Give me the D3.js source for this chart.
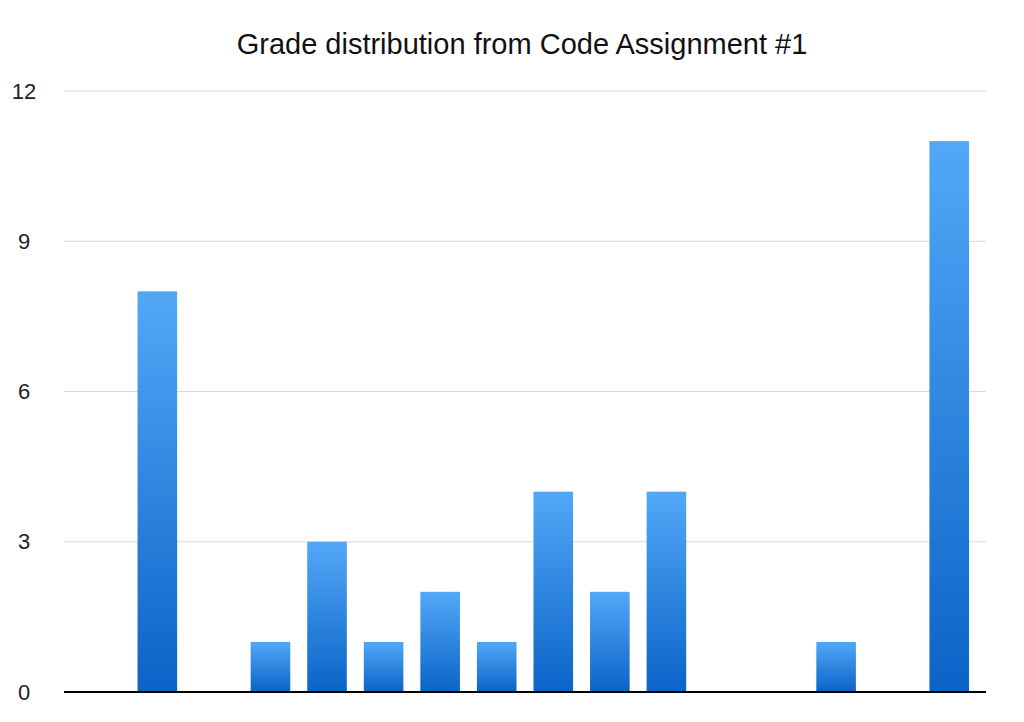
<!DOCTYPE html>
<html>
<head>
<meta charset="utf-8">
<script src="https://cdn.jsdelivr.net/npm/d3@7"></script>
<style>
  body { margin: 0; background: #fff; }
  text { font-family: "Liberation Sans", Arial, sans-serif; }
</style>
</head>
<body>
<svg id="chart" width="1024" height="722"></svg>
<script>
// bins of the grade distribution (no x labels in the original)
const categories = d3.range(16).map(i => "bin" + i);
const counts = [0, 8, 0, 1, 3, 1, 2, 1, 4, 2, 4, 0, 0, 1, 0, 11];
const yTicks = [0, 3, 6, 9, 12];
const title = "Grade distribution from Code Assignment #1";

const svg = d3.select("#chart");
const margin = { top: 91, right: 38, bottom: 30, left: 64 };
const width = 1024 - margin.left - margin.right;
const height = 722 - margin.top - margin.bottom;

const defs = svg.append("defs");
const grad = defs.append("linearGradient")
  .attr("id", "barGrad").attr("x1", 0).attr("y1", 0).attr("x2", 0).attr("y2", 1);
grad.append("stop").attr("offset", "0%").attr("stop-color", "#52a8f7");
grad.append("stop").attr("offset", "100%").attr("stop-color", "#0b63c7");

const x = d3.scaleBand().domain(categories).range([0, width]).padding(0.3);
const y = d3.scaleLinear().domain([0, 12]).range([height, 0]);

const g = svg.append("g").attr("transform", `translate(${margin.left},${margin.top})`);

// gridlines
g.selectAll(".grid")
  .data(yTicks.filter(d => d > 0))
  .enter()
  .append("line")
  .attr("x1", 0).attr("x2", width)
  .attr("y1", d => y(d)).attr("y2", d => y(d))
  .attr("stroke", "#d9d9d9").attr("stroke-width", 1);

// tick labels
g.selectAll(".ylab")
  .data(yTicks)
  .enter()
  .append("text")
  .attr("x", -40)
  .attr("y", d => y(d))
  .attr("dy", "0.35em")
  .attr("text-anchor", "middle")
  .style("font-size", "22px")
  .style("fill", "#222")
  .text(d => d);

// bars
const rows = counts.map((v, i) => ({ cat: categories[i], v }));
g.selectAll(".bar")
  .data(rows.filter(d => d.v > 0))
  .enter()
  .append("rect")
  .attr("x", d => x(d.cat))
  .attr("y", d => y(d.v))
  .attr("width", x.bandwidth())
  .attr("height", d => height - y(d.v))
  .attr("fill", "url(#barGrad)");

// baseline
g.append("line")
  .attr("x1", 0).attr("x2", width)
  .attr("y1", y(0)).attr("y2", y(0))
  .attr("stroke", "#000").attr("stroke-width", 2);

svg.append("text")
  .attr("x", 522).attr("y", 54)
  .attr("text-anchor", "middle")
  .style("font-size", "29px")
  .style("fill", "#111")
  .text(title);
</script>
</body>
</html>
